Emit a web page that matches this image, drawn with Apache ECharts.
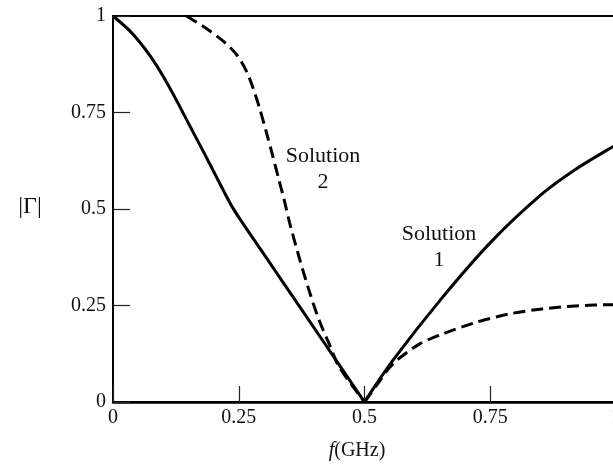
<!DOCTYPE html>
<html>
<head>
<meta charset="utf-8">
<script src="https://cdn.jsdelivr.net/npm/echarts@6/dist/echarts.min.js"></script>
<style>
  html, body { margin: 0; padding: 0; background: #fff; }
  #chart { width: 613px; height: 467px; }
</style>
</head>
<body>
<div id="chart"></div>
<script>
// ---- data ----
var xTicks = [0, 0.25, 0.5, 0.75, 1];
var yTicks = [0, 0.25, 0.5, 0.75, 1];

// solution 1 (solid), split at the null at 0.5 GHz
var sol1LeftF = [0, 0.033, 0.06, 0.08, 0.1, 0.126, 0.15, 0.18, 0.21, 0.24, 0.3, 0.37, 0.44, 0.5];
var sol1LeftG = [1, 0.962, 0.921, 0.885, 0.843, 0.782, 0.722, 0.648, 0.572, 0.499, 0.383, 0.249, 0.115, 0];
var sol1RightF = [0.5, 0.556, 0.655, 0.754, 0.853, 0.92, 0.992, 1.0];
var sol1RightG = [0, 0.107, 0.271, 0.418, 0.539, 0.603, 0.66, 0.665];

// solution 2 (dashed)
var sol2LeftF = [0.146, 0.185, 0.218, 0.245, 0.265, 0.278, 0.291, 0.304, 0.317, 0.33, 0.341, 0.351, 0.37, 0.39, 0.41, 0.43, 0.45, 0.5];
var sol2LeftG = [1, 0.968, 0.936, 0.901, 0.858, 0.815, 0.763, 0.703, 0.64, 0.575, 0.52, 0.465, 0.375, 0.288, 0.211, 0.15, 0.09, 0];
var sol2RightF = [0.5, 0.525, 0.556, 0.609, 0.655, 0.721, 0.787, 0.853, 0.919, 0.992, 1.0];
var sol2RightG = [0, 0.045, 0.098, 0.15, 0.176, 0.206, 0.228, 0.241, 0.249, 0.252, 0.252];

function pairs(xs, ys) {
  return xs.map(function (x, i) { return [x, ys[i]]; });
}

var serif = "'Liberation Serif', 'DejaVu Serif', serif";

function curve(xs, ys, dashed) {
  return {
    type: 'line',
    data: pairs(xs, ys),
    smooth: 0.3,
    showSymbol: false,
    silent: true,
    lineStyle: { color: '#000', width: 3, type: dashed ? [12, 6] : 'solid' }
  };
}

var myChart = echarts.init(document.getElementById('chart'));

var option = {
  animation: false,
  backgroundColor: '#fff',
  grid: {
    left: 113, top: 16, width: 503, height: 386,
    outerBoundsMode: 'none', containLabel: false,
    show: true, borderColor: '#000', borderWidth: 2, backgroundColor: 'transparent'
  },
  xAxis: {
    type: 'value', min: 0, max: 1, interval: 0.25,
    axisLine: { lineStyle: { color: '#000', width: 2.5 } },
    axisTick: { inside: true, length: 16, lineStyle: { color: '#222', width: 1.2 } },
    splitLine: { show: false },
    axisLabel: {
      color: '#111', fontFamily: serif, fontSize: 20, margin: 6,
      formatter: function (v) { return xTicks.indexOf(v) >= 0 ? String(v) : ''; }
    }
  },
  yAxis: {
    type: 'value', min: 0, max: 1, interval: 0.25,
    axisLine: { lineStyle: { color: '#000', width: 2 } },
    axisTick: { inside: true, length: 17, lineStyle: { color: '#222', width: 1.2 } },
    splitLine: { show: false },
    axisLabel: {
      color: '#111', fontFamily: serif, fontSize: 20, margin: 7,
      formatter: function (v) { return yTicks.indexOf(v) >= 0 ? String(v) : ''; }
    }
  },
  series: [
    curve(sol1LeftF, sol1LeftG, false),
    curve(sol1RightF, sol1RightG, false),
    curve(sol2LeftF, sol2LeftG, true),
    curve(sol2RightF, sol2RightG, true)
  ],
  graphic: [
    {
      type: 'text', x: 30, y: 207,
      style: { text: '|\u0393|', fontFamily: serif, fontSize: 24, fill: '#111', align: 'center', verticalAlign: 'middle' }
    },
    {
      type: 'text', x: 357, y: 451,
      style: {
        text: '{i|f}{n|(GHz)}', align: 'center', verticalAlign: 'middle', fill: '#111',
        rich: {
          i: { fontFamily: serif, fontSize: 20, fontStyle: 'italic', fill: '#111' },
          n: { fontFamily: serif, fontSize: 20, fill: '#111' }
        }
      }
    },
    {
      type: 'text', x: 323, y: 143,
      style: { text: 'Solution\n2', fontFamily: serif, fontSize: 22, lineHeight: 26, fill: '#111', align: 'center', verticalAlign: 'top' }
    },
    {
      type: 'text', x: 439, y: 221,
      style: { text: 'Solution\n1', fontFamily: serif, fontSize: 22, lineHeight: 26, fill: '#111', align: 'center', verticalAlign: 'top' }
    }
  ]
};

option && myChart.setOption(option);
</script>
</body>
</html>
